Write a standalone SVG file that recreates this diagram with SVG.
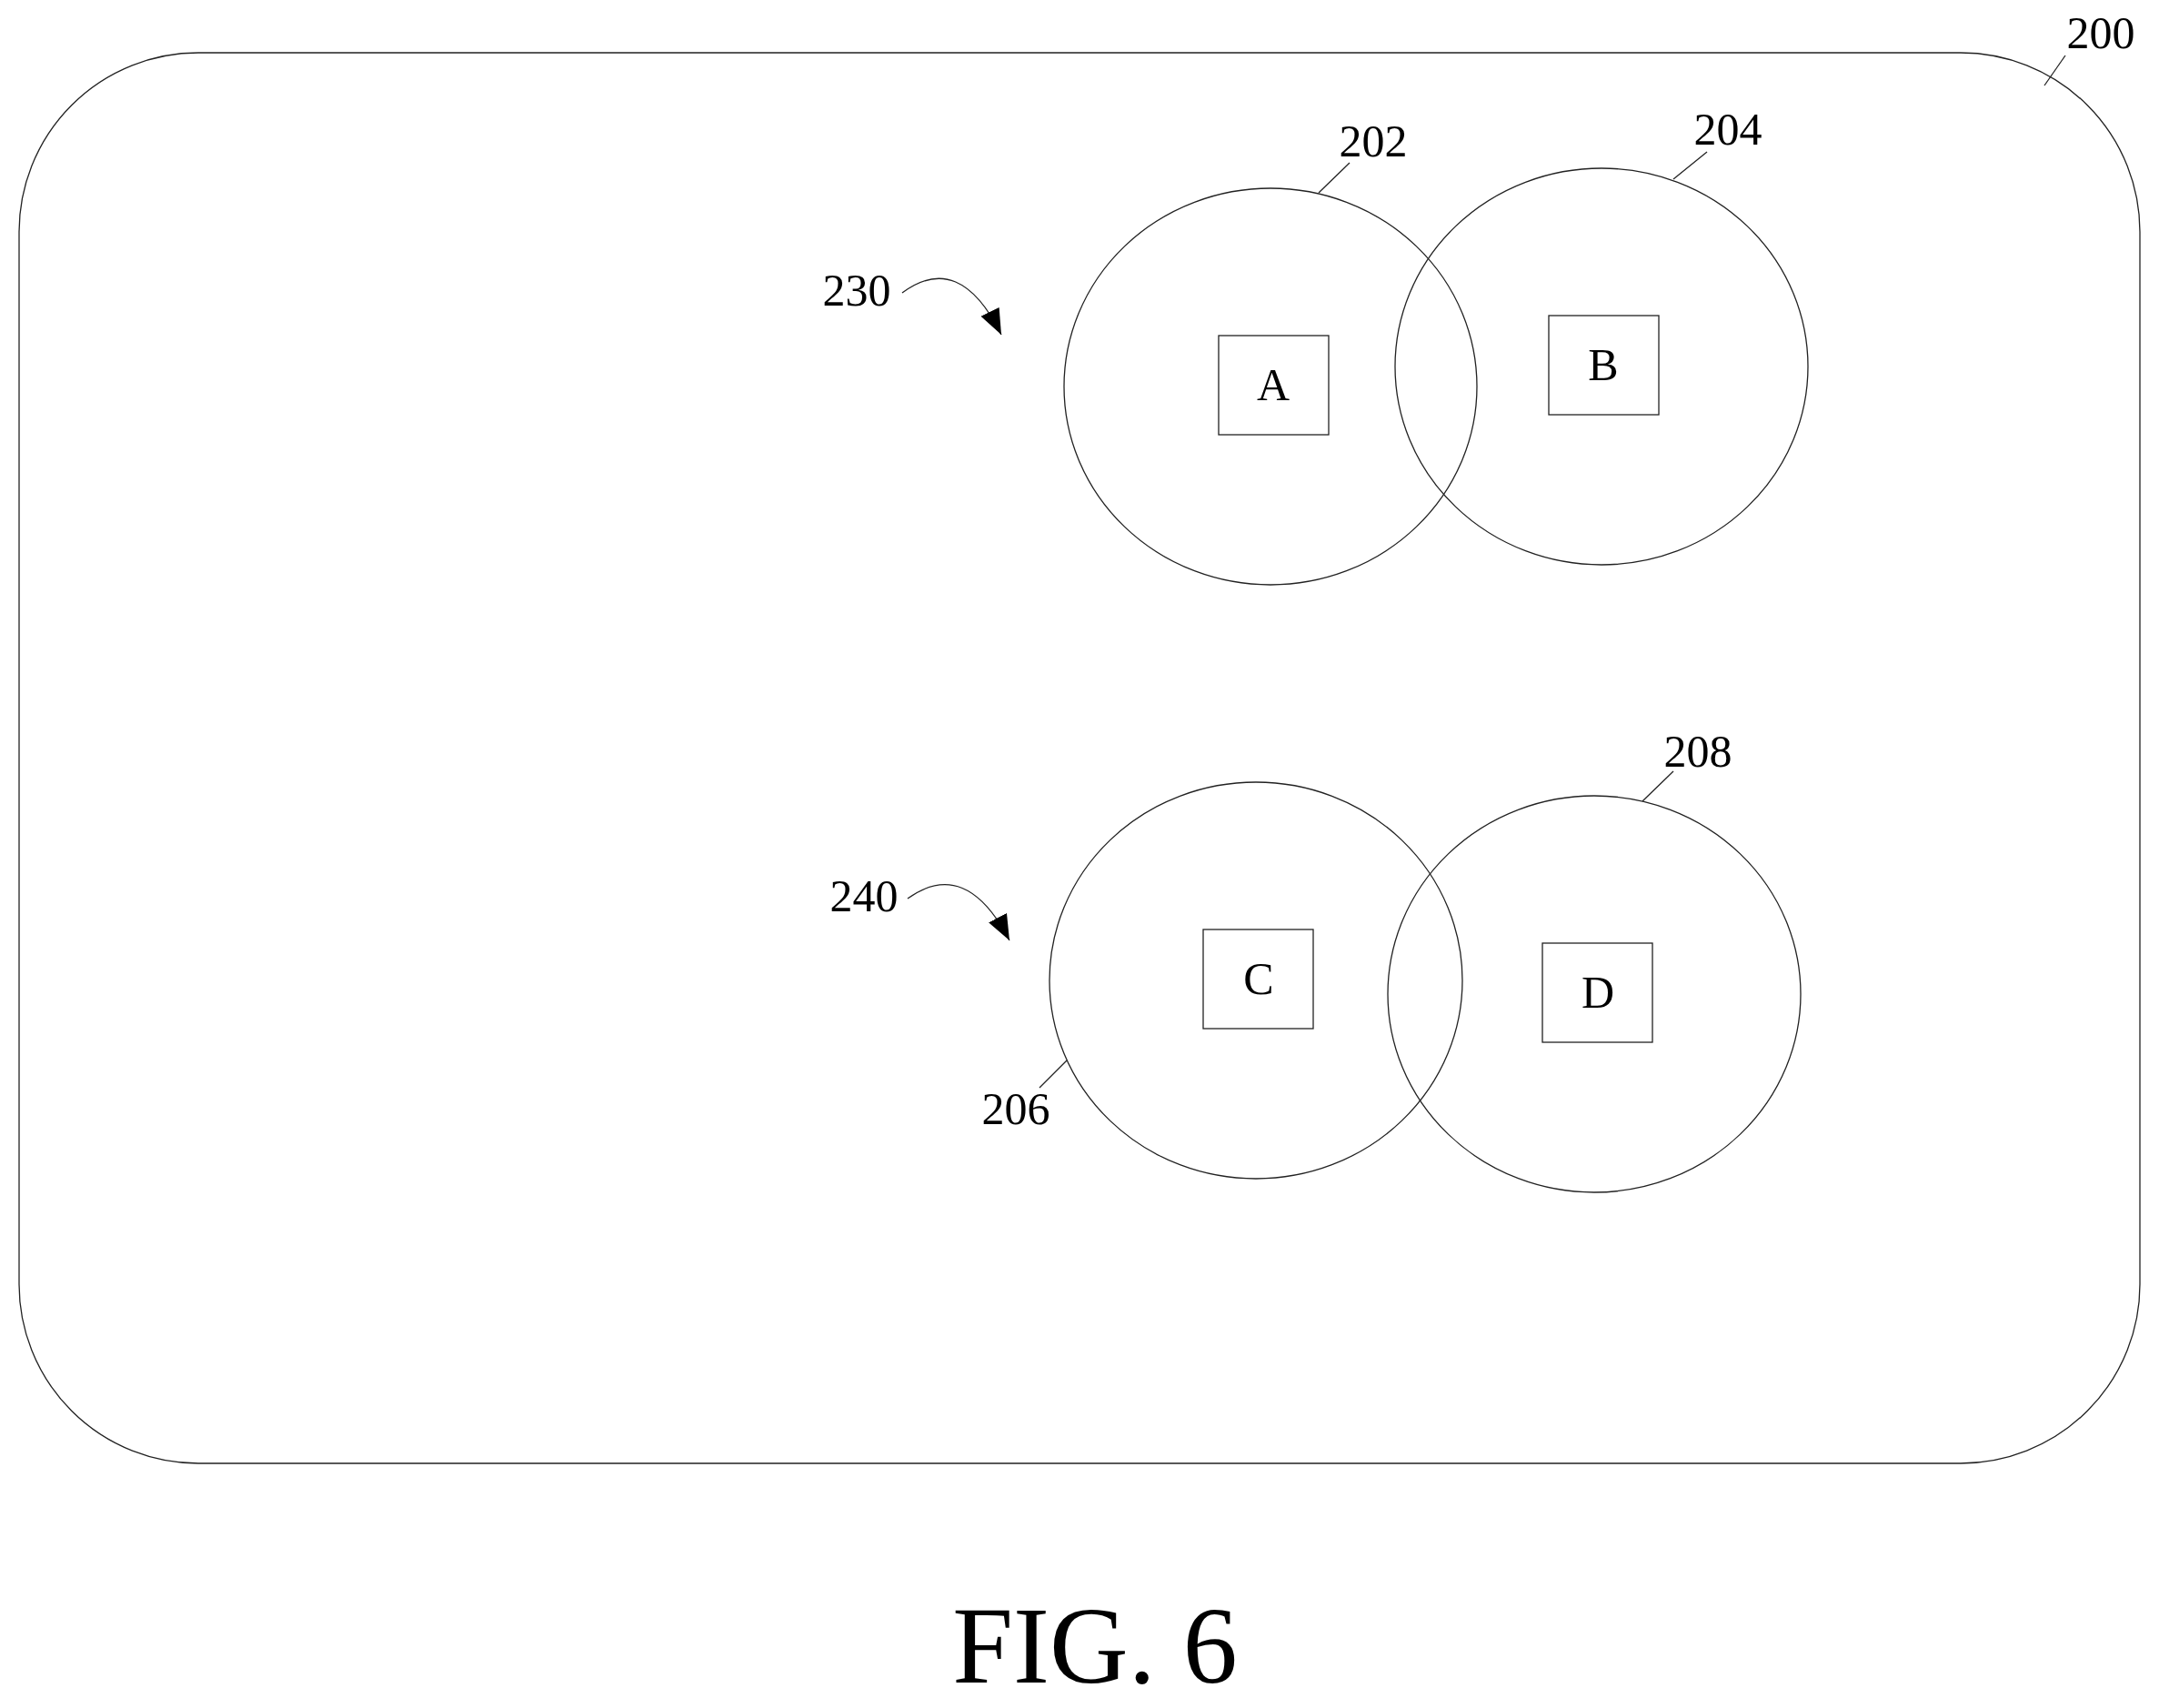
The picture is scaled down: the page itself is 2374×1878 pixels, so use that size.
<svg xmlns="http://www.w3.org/2000/svg" width="2374" height="1878" viewBox="0 0 2374 1878">
<style>
.s{fill:none;stroke:#222;stroke-width:1.3}
.t{font-family:"Liberation Serif",serif;font-size:50px;fill:#000;text-anchor:middle}
</style>
<defs>
<marker id="a2" viewBox="0 0 10 10" refX="10" refY="5" markerWidth="28" markerHeight="28" orient="auto" markerUnits="userSpaceOnUse"><path d="M0,1 L10,5 L0,9 z"/></marker></defs>
<g id="n200"><rect class="s" x="21" y="58" width="2332" height="1551" rx="197"/><text class="t" x="2310" y="53">200</text></g>
<g id="n202"><ellipse class="s" cx="1397" cy="425" rx="227" ry="218"/><text class="t" x="1510" y="172">202</text></g>
<g id="n204"><ellipse class="s" cx="1761" cy="403" rx="227" ry="218"/><text class="t" x="1900" y="159">204</text></g>
<g id="nA"><rect class="s" x="1340" y="369" width="121" height="109"/><text class="t" x="1400" y="440">A</text></g>
<g id="nB"><rect class="s" x="1703" y="347" width="121" height="109"/><text class="t" x="1763" y="418">B</text></g>
<g id="n206"><ellipse class="s" cx="1381" cy="1078" rx="227" ry="218"/><text class="t" x="1117" y="1236">206</text></g>
<g id="n208"><ellipse class="s" cx="1753" cy="1093" rx="227" ry="218"/><text class="t" x="1867" y="843">208</text></g>
<g id="nC"><rect class="s" x="1323" y="1022" width="121" height="109"/><text class="t" x="1384" y="1093">C</text></g>
<g id="nD"><rect class="s" x="1696" y="1037" width="121" height="109"/><text class="t" x="1757" y="1108">D</text></g>
<g id="n230"><text class="t" x="942" y="336">230</text></g>
<g id="n240"><text class="t" x="950" y="1002">240</text></g>
<g id="connectors">
<path class="s" d="M2248,94 L2271,61"/>
<path class="s" d="M1450,212 L1484,179"/>
<path class="s" d="M1840,197 L1877,167"/>
<path class="s" d="M1173,1166 L1143,1196"/>
<path class="s" d="M1806,881 L1840,848"/>
<path class="s" d="M992,322 Q1055,275 1101,368" marker-end="url(#a2)"/>
<path class="s" d="M998,988 Q1062,942 1110,1034" marker-end="url(#a2)"/>
</g>
<text x="1204" y="1850" style="font-family:'Liberation Serif',serif;font-size:120px;text-anchor:middle">FIG. 6</text>
</svg>
